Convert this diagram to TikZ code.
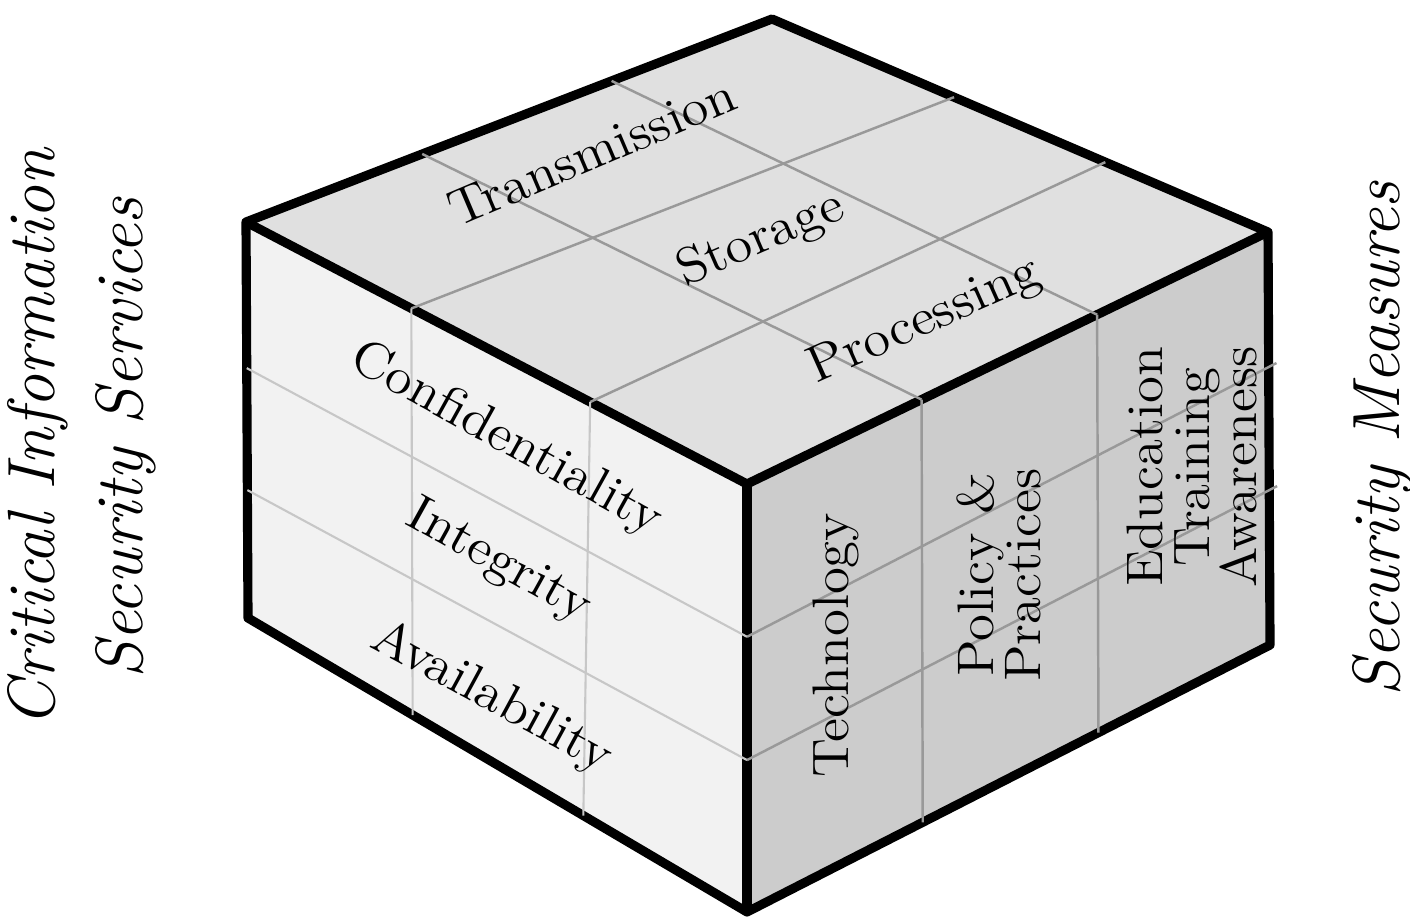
\documentclass[tikz,border=0pt]{standalone}
\usetikzlibrary{calc}

\begin{document}
\begin{tikzpicture}[x=0.01cm,y=-0.01cm,
    edge/.style={line width=2.6pt,line join=round},
    topgrid/.style={black!40,line width=0.7pt},
    leftgrid/.style={black!22,line width=0.6pt},
    facetext/.style={font={\fontsize{14.6}{13.4}\selectfont\lineskiplimit=-20pt},inner sep=0pt,align=center},
    sidetext/.style={font=\fontsize{19}{25}\selectfont\itshape,inner sep=0pt,align=center,rotate=90}]
      \useasboundingbox (0,0) rectangle (1410,922);

      % Corners
      \coordinate (T) at (772,19);
      \coordinate (L) at (246,222);
      \coordinate (R) at (1268,232);
      \coordinate (F) at (747,484);
      \coordinate (LB) at (248,618);
      \coordinate (FB) at (747,912);
      \coordinate (RB) at (1270,645);

      % Faces
      \fill [black!12] (L) -- (T) -- (R) -- (F) -- cycle;
      \fill [black!5] (L) -- (F) -- (FB) -- (LB) -- cycle;
      \fill [black!20] (F) -- (R) -- (RB) -- (FB) -- cycle;

      % Edges
      \draw [edge] (L) -- (T) -- (R) -- (RB) -- (FB) -- (LB) -- cycle;
      \draw [edge] (L) -- (F) -- (R);
      \draw [edge] (F) -- (FB);

      % Grid on top
      \draw [topgrid] ($(L)!0.335!(T)$) -- ($(F)!0.335!(R)$);
      \draw [topgrid] ($(L)!0.695!(T)$) -- ($(F)!0.672!(R)$);
      \draw [topgrid] ($(L)!0.33!(F)$) -- ($(T)!0.367!(R)$);
      \draw [topgrid] ($(L)!0.687!(F)$) -- ($(T)!0.672!(R)$);

      % Grid on left
      \draw [leftgrid] ($(L)!0.33!(F)$) -- ($(LB)!0.33!(FB)$);
      \draw [leftgrid] ($(L)!0.687!(F)$) -- ($(LB)!0.672!(FB)$);
      \draw [leftgrid] ($(L)!0.369!(LB)$) -- ($(F)!0.357!(FB)$);
      \draw [leftgrid] ($(L)!0.677!(LB)$) -- ($(F)!0.645!(FB)$);

      % Grid on right
      \draw [topgrid] ($(F)!0.335!(R)$) -- ($(FB)!0.336!(RB)$);
      \draw [topgrid] ($(F)!0.672!(R)$) -- ($(FB)!0.672!(RB)$);
      \draw [topgrid,shorten >=-2.5pt] ($(F)!0.357!(FB)$) -- ($(R)!0.327!(RB)$);
      \draw [topgrid,shorten >=-2.5pt] ($(F)!0.645!(FB)$) -- ($(R)!0.625!(RB)$);

      % Information states
      \node (transmission) [facetext,rotate=23,xscale=1.07] at (592,152) {Transmission};
      \node (storage) [facetext,rotate=23.5,xscale=1.07] at (761,240) {Storage};
      \node (processing) [facetext,rotate=24,xscale=1.07] at (925,322) {Processing};

      % Security services
      \node (confidentiality) [facetext,rotate=-29,xscale=1.07] at (506,440) {Confidentiality};
      \node (integrity) [facetext,rotate=-29,xscale=1.07] at (498,562) {Integrity};
      \node (availability) [facetext,rotate=-28.5,xscale=1.07] at (492,698) {Availability};

      % Security measures
      \node (technology) [facetext,rotate=90,xscale=1.07] at (836,645) {Technology};
      \node (policy) [facetext,rotate=90,xscale=1.07] at (999,575) {Policy \&\\Practices};
      \node (education) [facetext,rotate=90,xscale=1.07] at (1192,467) {Education\\Training\\Awareness};

      % Axis titles
      \node (services) [sidetext] at (82,438) {Critical Information\\Security Services};
      \node (measures) [sidetext] at (1383,439) {Security Measures};
\end{tikzpicture}
\end{document}
